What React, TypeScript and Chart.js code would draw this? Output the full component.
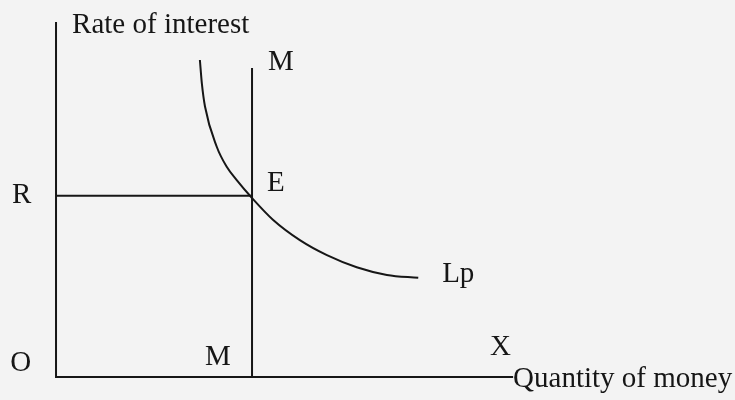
import React, { useEffect, useRef } from "react";
import { Chart, registerables } from "chart.js";

Chart.register(...registerables);

// Liquidity preference curve (Lp): quantity of money vs rate of interest
const lpQuantity = [36.7, 37.2, 38.0, 41.0, 43.5, 46.1, 50.0, 55.4, 62.2, 69.1, 76.7, 84.4, 92.4];
const lpRate = [86.6, 80.2, 73.9, 62.9, 57.5, 53.8, 48.9, 42.9, 37.4, 33.3, 30.0, 27.9, 27.1];

// Money supply (vertical line M) and equilibrium rate R
const moneySupply = 50;
const moneySupplyTop = 84.4;
const equilibriumRate = 49.5;

// Axes extents
const yAxisTop = 97;
const xAxisEnd = 116.6;

// Visible window of the diagram
const xRange = [-14.29, 173.2];
const yRange = [-6.28, 103.0];

// Text labels: text, quantity position, rate position (baseline, left-aligned)
const labelTexts = ["Rate of interest", "M", "E", "R", "O", "M", "X", "Lp", "Quantity of money"];
const labelQuantity = [4.1, 54.1, 53.8, -11.2, -11.7, 38.0, 110.7, 98.5, 116.6];
const labelRate = [94.0, 83.9, 50.8, 47.5, 1.6, 3.3, 6.0, 26.0, -2.7];

const INK = "#161616";
const FONT = "'Liberation Serif', 'Times New Roman', serif";

const labelPlugin = {
  id: "diagramLabels",
  afterDatasetsDraw(chart: any) {
    const { ctx, scales } = chart;
    ctx.save();
    ctx.fillStyle = INK;
    ctx.font = `29px ${FONT}`;
    ctx.textAlign = "left";
    ctx.textBaseline = "alphabetic";
    labelTexts.forEach((t, i) => {
      const px = scales.x.getPixelForValue(labelQuantity[i]);
      const py = scales.y.getPixelForValue(labelRate[i]);
      ctx.fillText(t, px, py);
    });
    ctx.restore();
  },
};

export default function App() {
  const ref = useRef<HTMLCanvasElement | null>(null);

  useEffect(() => {
    if (!ref.current) return;
    const lineStyle = {
      borderColor: INK,
      borderWidth: 2,
      pointRadius: 0,
      fill: false,
      tension: 0,
    };
    const chart = new Chart(ref.current, {
      type: "scatter",
      data: {
        datasets: [
          {
            ...lineStyle,
            label: "axes",
            showLine: true,
            data: [
              { x: 0, y: yAxisTop },
              { x: 0, y: 0 },
              { x: xAxisEnd, y: 0 },
            ],
          },
          {
            ...lineStyle,
            label: "M",
            showLine: true,
            data: [
              { x: moneySupply, y: moneySupplyTop },
              { x: moneySupply, y: 0 },
            ],
          },
          {
            ...lineStyle,
            label: "R",
            showLine: true,
            data: [
              { x: 0, y: equilibriumRate },
              { x: moneySupply, y: equilibriumRate },
            ],
          },
          {
            ...lineStyle,
            label: "Lp",
            showLine: true,
            cubicInterpolationMode: "monotone",
            data: lpQuantity.map((q, i) => ({ x: q, y: lpRate[i] })),
          } as any,
        ],
      },
      options: {
        animation: false,
        responsive: false,
        maintainAspectRatio: false,
        layout: { padding: 0 },
        plugins: {
          legend: { display: false },
          tooltip: { enabled: false },
        },
        scales: {
          x: { type: "linear", display: false, min: xRange[0], max: xRange[1] },
          y: { type: "linear", display: false, min: yRange[0], max: yRange[1] },
        },
      },
      plugins: [labelPlugin],
    });
    return () => chart.destroy();
  }, []);

  return (
    <div
      style={{
        position: "fixed",
        left: 0,
        top: 0,
        width: 735,
        height: 400,
        background: "#f3f3f3",
      }}
    >
      <canvas ref={ref} width={735} height={400} style={{ display: "block" }} />
    </div>
  );
}
